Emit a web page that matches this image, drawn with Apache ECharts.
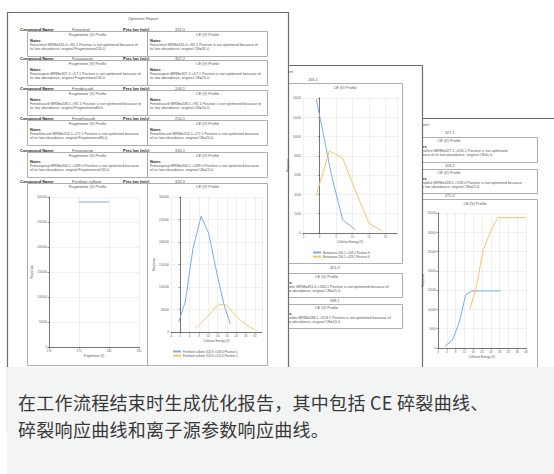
<!DOCTYPE html>
<html>
<head>
<meta charset="utf-8">
<script src="https://cdn.jsdelivr.net/npm/echarts@6/dist/echarts.min.js"></script>
<style>
  html, body { margin: 0; padding: 0; background: #fff; }
  #wrap { position: relative; width: 554px; height: 474px; overflow: hidden; }
  #chart { position: absolute; left: 0; top: 0; width: 554px; height: 474px; }
  #caption {
    position: absolute; left: 7px; top: 367px; width: 547px; height: 107px;
    box-sizing: border-box; padding: 22px 0 0 11px; background: #f3f4f4;
    font-family: "Noto Sans CJK SC", sans-serif; font-size: 18px; line-height: 27px;
    letter-spacing: 0.3px; color: #383838;
  }
</style>
</head>
<body>
<div id="wrap">
  <div id="chart"></div>
  <div id="caption">在工作流程结束时生成优化报告，其中包括 CE 碎裂曲线、<br>碎裂响应曲线和离子源参数响应曲线。</div>
</div>
<script>
// ---- data ----
var compoundNames = ["Fenarimol", "Fenazaquin", "Fenobucarb", "Fenothiocarb", "Fenoxaprop", "Fenthion sulfone"];
var precIons = ["331.0", "307.2", "208.1", "254.1", "334.1", "324.9"];
var fragNotes = [
  ["Fenarimol MRM=331.0->81.1 Positive is not optimized because of", "its low abundance, original Fragmentor=135.0."],
  ["Fenazaquin MRM=307.2->57.1 Positive is not optimized because of", "its low abundance, original Fragmentor=130.0."],
  ["Fenobucarb MRM=208.1->95.1 Positive is not optimized because of", "its low abundance, original Fragmentor=80.0."],
  ["Fenothiocarb MRM=254.1->72.1 Positive is not optimized because", "of its low abundance, original Fragmentor=90.0."],
  ["Fenoxaprop MRM=334.1->288.0 Positive is not optimized because", "of its low abundance, original Fragmentor=135.0."]
];
var ceNotes = [
  ["Fenarimol MRM=331.0->81.1 Positive is not optimized because of", "its low abundance, original CE=35.0."],
  ["Fenazaquin MRM=307.2->57.1 Positive is not optimized because of", "its low abundance, original CE=25.0."],
  ["Fenobucarb MRM=208.1->95.1 Positive is not optimized because of", "its low abundance, original CE=10.0."],
  ["Fenothiocarb MRM=254.1->72.1 Positive is not optimized because", "of its low abundance, original CE=20.0."],
  ["Fenoxaprop MRM=334.1->288.0 Positive is not optimized because", "of its low abundance, original CE=15.0."]
];

// page 1, fragmentor profile
var fragX = [175, 180];
var fragY = [290000, 290000];
// page 1, CE profile
var ce1BlueX = [-0.7, 2.1, 5.4, 8.9, 12.1, 15.7, 18.6, 21.4];
var ce1BlueY = [22000, 67000, 185000, 257000, 220000, 130000, 63000, 18000];
var ce1OrangeX = [6.4, 9.3, 12.9, 16, 18.6, 21.4, 25, 28.6, 32.1];
var ce1OrangeY = [7000, 22000, 41000, 59000, 61500, 50000, 30000, 15000, 5000];
var ce1Names = ["Fenthion sulfone 324.9->109.0 Positive 5", "Fenthion sulfone 324.9->125.0 Positive 5"];
// page 2, CE profile
var ce2BlueX = [-1, 1.5, 3.5, 7, 11];
var ce2BlueY = [13900, 9700, 6200, 1400, 300];
var ce2OrangeX = [-1, 3, 7, 11, 15, 19];
var ce2OrangeY = [3900, 8500, 7800, 4300, 1000, 200];
var ce2Names = ["Bentazone 206.1->108.1 Positive 6", "Bentazone 206.1->119.1 Positive 6"];
// page 3, CE profile
var ce3BlueX = [3, 6.5, 9.7, 12.6, 15.4, 18.5, 28.5];
var ce3BlueY = [400, 2000, 6700, 13800, 14800, 14800, 14800];
var ce3OrangeX = [14.6, 17.4, 20.5, 23.8, 27.2, 40];
var ce3OrangeY = [10200, 15800, 25200, 30100, 33800, 33800];
var ce3Names = ["Mesotrione 271.0->134.0 Positive 4", "Mesotrione 271.0->210.0 Positive 4"];

var BLUE = "#78aee9";
var ORANGE = "#f6c46a";
var FONT = '"Liberation Sans", Arial, sans-serif';

function pairs(xs, ys) {
  return xs.map(function (x, i) { return [x, ys[i]]; });
}

// ---- page furniture (graphic) ----
var els = [];
function rect(x, y, w, h, z, stroke, lw) {
  els.push({
    type: "rect", z: z, silent: true,
    shape: { x: x, y: y, width: w, height: h },
    style: { fill: "#fff", stroke: stroke || "#9b9b9b", lineWidth: lw || 0.8 }
  });
}
function txt(x, y, t, z, size, bold, align, color) {
  els.push({
    type: "text", z: z, silent: true,
    style: {
      x: x, y: y, text: t, fill: color || (bold ? "#222" : "#555"),
      font: (bold ? "bold " : "") + size + "px " + FONT,
      textAlign: align || "left", textVerticalAlign: "middle"
    }
  });
}
function noteBox(x, y, w, h, z, title, lines, notesX) {
  rect(x, y, w, h, z);
  txt(x + w / 2, y + 3.5, title, z, 3.8, false, "center");
  txt(notesX, y + 9.5, "Notes", z, 3.8, true);
  txt(notesX, y + 13.5, lines[0], z, 3.7);
  txt(notesX, y + 17.5, lines[1], z, 3.7);
}

// page 3 (back)
rect(350.5, 118.5, 220, 400, 1, "#6e6e6e", 1.2);
txt(429, 124, "Optimizer Report", 2, 4, false, "right");
txt(445, 133, "327.1", 2, 3.8);
noteBox(360.5, 137.5, 177, 25, 2, "CE (V) Profile",
  ["Cyprothrin MRM=327.1->205.1 Positive is not optimized", "because of its low abundance, original CE=5.0."], 416);
txt(445, 166, "328.2", 2, 3.8);
noteBox(360.5, 169.5, 177, 24, 2, "CE (V) Profile",
  ["Cyprodinil MRM=328.2->158.0 Positive is not optimized because", "of its low abundance, original CE=25.0."], 416);
txt(445, 196, "271.0", 2, 3.8);
rect(360.5, 199.5, 177, 200, 2);
txt(475, 203.5, "CE (V) Profile", 2, 3.8, false, "center");

// page 2 (middle)
rect(200.5, 65.5, 222, 400, 3, "#6e6e6e", 1.2);
txt(293, 71, "Optimizer Report", 4, 4, false, "right");
txt(308, 80, "206.1", 4, 3.8);
rect(250.5, 83.5, 152, 180, 4);
txt(345, 88, "CE (V) Profile", 4, 3.8, false, "center");
txt(330, 268, "451.0", 4, 3.8);
noteBox(250.5, 273.5, 152, 24, 4, "CE (V) Profile",
  ["Lactofen MRM=451.0->343.1 Positive is not optimized because of", "its low abundance, original CE=15.0."], 281);
txt(330, 301, "338.1", 4, 3.8);
noteBox(250.5, 304.5, 152, 24, 4, "CE (V) Profile",
  ["Bensulide MRM=338.1->218.1 Positive is not optimized because of", "its low abundance, original CE=10.0."], 281);

// page 1 (front)
rect(7.5, 12.5, 281, 420, 5, "#6e6e6e", 1.2);
txt(143, 18, "Optimizer Report", 6, 4, false, "center");
var rowY = [29, 58, 88, 118, 150, 181];
compoundNames.forEach(function (name, i) {
  var y = rowY[i];
  txt(20, y, "Compound Name:", 6, 4, true);
  txt(72, y, name, 6, 4);
  txt(123, y, "Prec Ion (m/z)", 6, 4, true);
  txt(175, y, precIons[i], 6, 4);
  if (i < fragNotes.length) {
    noteBox(27.5, y + 2.5, 120, 25, 6, "Fragmentor (V) Profile", fragNotes[i], 30);
    noteBox(147.5, y + 2.5, 120, 25, 6, "CE (V) Profile", ceNotes[i], 150);
  }
});
rect(27.5, 183.5, 120, 182, 6);
rect(147.5, 183.5, 120, 182, 6);
txt(87.5, 187, "Fragmentor (V) Profile", 6, 3.8, false, "center");
txt(207.5, 187, "CE (V) Profile", 6, 3.8, false, "center");

// ---- axes ----
function plain(v) { return String(v); }
function xAx(gi, min, max, interval, name, showMax) {
  return {
    type: "value", gridIndex: gi, min: min, max: max, interval: interval, z: 7,
    name: name, nameLocation: "middle", nameGap: 7,
    nameTextStyle: { fontSize: 3, color: "#555", fontFamily: FONT },
    axisLine: { onZero: false, lineStyle: { color: "#555", width: 0.8 } },
    axisTick: { length: 1.5, lineStyle: { color: "#555", width: 0.6 } },
    axisLabel: { fontSize: 3, color: "#666", margin: 2, fontFamily: FONT, showMaxLabel: showMax, formatter: plain },
    splitLine: { lineStyle: { color: "#e6e6e6", width: 0.6 } }
  };
}
function yAx(gi, max, interval, gap) {
  return {
    type: "value", gridIndex: gi, min: 0, max: max, interval: interval, z: 7,
    name: "Response", nameLocation: "middle", nameGap: gap,
    nameTextStyle: { fontSize: 3, color: "#555", fontFamily: FONT },
    axisLine: { show: true, lineStyle: { color: "#555", width: 0.8 } },
    axisTick: { show: true, length: 1.5, lineStyle: { color: "#555", width: 0.6 } },
    axisLabel: { fontSize: 3, color: "#666", margin: 2, fontFamily: FONT, formatter: plain },
    splitLine: { lineStyle: { color: "#e6e6e6", width: 0.6 } }
  };
}
function line(name, gi, data, color, smooth) {
  return {
    name: name, type: "line", xAxisIndex: gi, yAxisIndex: gi, data: data, z: 8,
    showSymbol: false, smooth: smooth || false, animation: false,
    lineStyle: { color: color, width: 1 }, itemStyle: { color: color }
  };
}
function legend(names, left, top) {
  return {
    data: names, left: left, top: top, orient: "vertical", z: 9,
    itemWidth: 8, itemHeight: 2, itemGap: 1.2, padding: 0, icon: "rect",
    textStyle: { fontSize: 3, color: "#555", fontFamily: FONT, padding: [0, 0, 0, -3] }
  };
}

var option = {
  animation: false,
  backgroundColor: "#fff",
  graphic: { elements: els },
  grid: [
    { left: 49, top: 197, width: 90, height: 150 },
    { left: 171, top: 197, width: 91, height: 135 },
    { left: 303, top: 98, width: 94, height: 135 },
    { left: 438, top: 213, width: 88, height: 135 }
  ],
  xAxis: [
    xAx(0, 170, 185, 5, "Fragmentor (V)", true),
    xAx(1, -4, 35, 4, "Collision Energy (V)", false),
    xAx(2, -5, 23.5, 5, "Collision Energy (V)", false),
    xAx(3, 0, 40, 4, "Collision Energy (V)", true)
  ],
  yAxis: [
    yAx(0, 300000, 50000, 13),
    yAx(1, 300000, 50000, 12),
    yAx(2, 14000, 2000, 11),
    yAx(3, 35000, 5000, 13)
  ],
  legend: [
    legend(ce1Names, 173, 350),
    legend(ce2Names, 313, 251)
  ],
  series: [
    line("Fenthion sulfone 324.9 Fragmentor", 0, pairs(fragX, fragY), BLUE),
    line(ce1Names[0], 1, pairs(ce1BlueX, ce1BlueY), BLUE),
    line(ce1Names[1], 1, pairs(ce1OrangeX, ce1OrangeY), ORANGE, 0.4),
    line(ce2Names[0], 2, pairs(ce2BlueX, ce2BlueY), BLUE),
    line(ce2Names[1], 2, pairs(ce2OrangeX, ce2OrangeY), ORANGE),
    line(ce3Names[0], 3, pairs(ce3BlueX, ce3BlueY), BLUE),
    line(ce3Names[1], 3, pairs(ce3OrangeX, ce3OrangeY), ORANGE)
  ]
};

var chart = echarts.init(document.getElementById("chart"), null, { renderer: "svg" });
chart.setOption(option);
</script>
</body>
</html>
